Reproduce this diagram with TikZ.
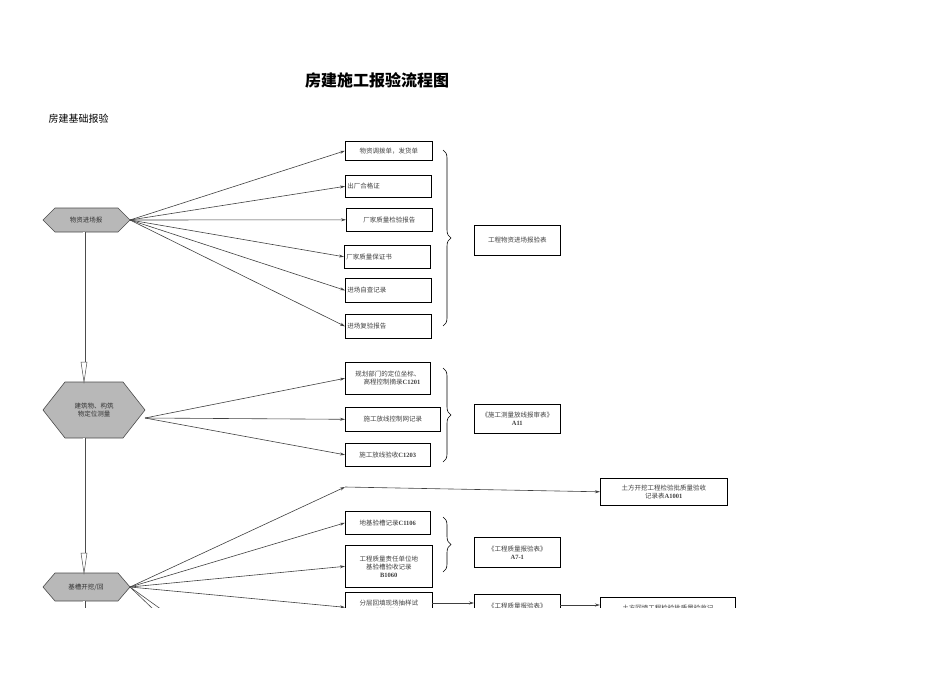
\documentclass[tikz,border=0pt]{standalone}
\usepackage{fontspec}
\setmainfont{Liberation Serif}
\newfontfamily\cjk{Noto Sans CJK SC}
\usetikzlibrary{arrows.meta,decorations.pathreplacing}
\begin{document}
\begin{tikzpicture}[x=1pt,y=-1pt,
  box/.style={draw=black,line width=0.6pt,inner sep=1pt,font=\cjk\fontsize{6.5}{8}\selectfont,text=black!75,align=center},
  hex/.style={draw=black!70,fill=black!28,line width=0.6pt},
  ar/.style={draw=black!75,line width=0.6pt,-{Stealth[length=5pt,width=3pt]}},
  dbl/.style={draw=black!70,double=white,double distance=2pt,line width=0.5pt},
  br/.style={draw=black,line width=0.6pt,decoration={brace,amplitude=8pt},decorate}]
\useasboundingbox (0,0) rectangle (950,672);
\node[font=\cjk\bfseries\fontsize{16}{18}\selectfont] (title) at (377,80) {房建施工报验流程图};
\node[font=\cjk\fontsize{10}{12}\selectfont,anchor=west] (sub) at (45,119) {房建基础报验};
\begin{scope}
\clip (0,0) rectangle (950,607);
% hexagons
\draw[hex] (43,220)--(55,208)--(118,208)--(130,220)--(118,232)--(55,232)--cycle;
\node[font=\cjk\fontsize{6.5}{8}\selectfont,text=black!80] (h1) at (86,220) {物资进场报};
\draw[hex] (43,410)--(65,382)--(123,382)--(145,410)--(123,438)--(65,438)--cycle;
\node[font=\cjk\fontsize{6.5}{8}\selectfont,text=black!80,align=center] (h2) at (94,410) {建筑物、构筑\\物定位测量};
\draw[hex] (43,587)--(55,573)--(118,573)--(130,587)--(118,601)--(55,601)--cycle;
\node[font=\cjk\fontsize{6.5}{8}\selectfont,text=black!80] (h3) at (86,587) {基槽开挖/回};
\coordinate (o1) at (130,220);
\coordinate (o2) at (145,418);
\coordinate (o3) at (130,587);
% double connectors
\draw[dbl] (84,232)--(84,362);
\draw[draw=black!70,line width=0.5pt] (81,362)--(84,382)--(87,362)--cycle;
\draw[dbl] (84,438)--(84,553);
\draw[draw=black!70,line width=0.5pt] (81,553)--(84,573)--(87,553)--cycle;
\draw[dbl] (84,601)--(84,620);
% group 1
\node[box,minimum width=87pt,minimum height=19pt,anchor=north west] (a1) at (345,141) {物资调拨单，发货单};
\node[box,minimum width=86pt,minimum height=22pt,anchor=north west,align=left,text width=82pt] (a2) at (345,175) {出厂合格证};
\node[box,minimum width=86pt,minimum height=23pt,anchor=north west] (a3) at (346,208) {厂家质量检验报告};
\node[box,minimum width=86pt,minimum height=23pt,anchor=north west,align=left,text width=82pt] (a4) at (344,245) {厂家质量保证书};
\node[box,minimum width=86pt,minimum height=24pt,anchor=north west,align=left,text width=82pt] (a5) at (345,278) {进场自查记录};
\node[box,minimum width=86pt,minimum height=24pt,anchor=north west,align=left,text width=82pt] (a6) at (345,314) {进场复验报告};
\foreach \n in {a1,a2,a3,a4,a5,a6} \draw[ar] (o1)--(\n.west);
\draw[br] (443,150)--(443,326);
\node[box,minimum width=86pt,minimum height=30pt,anchor=north west] (A) at (474,225) {工程物资进场报验表};
% group 2
\node[box,minimum width=85pt,minimum height=32pt,anchor=north west,align=right] (b1) at (345,362) {规划部门的定位坐标、\\高程控制摘录{\rmfamily\bfseries C1201}};
\node[box,minimum width=95pt,minimum height=24pt,anchor=north west] (b2) at (345,407) {施工放线控制网记录};
\node[box,minimum width=85pt,minimum height=23pt,anchor=north west] (b3) at (345,443) {施工放线验收{\rmfamily\bfseries C1203}};
\foreach \n in {b1,b2,b3} \draw[ar] (o2)--(\n.west);
\draw[br] (443,368)--(443,462);
\node[box,minimum width=86pt,minimum height=29pt,anchor=north west] (B) at (474,404) {《施工测量放线报审表》\\{\rmfamily\bfseries A11}};
% group 3
\coordinate (k) at (345,487);
\draw[ar] (o3)--(k);
\node[box,minimum width=127pt,minimum height=27pt,anchor=north west] (c0) at (600,478) {土方开挖工程检验批质量验收\\记录表{\rmfamily\bfseries A1001}};
\draw[ar] (k)--(c0.west);
\node[box,minimum width=85pt,minimum height=23pt,anchor=north west] (c1) at (345,511) {地基验槽记录{\rmfamily\bfseries C1106}};
\node[box,minimum width=87pt,minimum height=42pt,anchor=north west] (c2) at (345,545) {工程质量责任单位地\\基验槽验收记录\\{\rmfamily\bfseries B1060}};
\draw[ar] (o3)--(c1.west);
\draw[ar] (o3)--(c2.west);
\draw[br] (443,517)--(443,572);
\node[box,minimum width=86pt,minimum height=30pt,anchor=north west] (C) at (474,537) {《工程质量报验表》\\{\rmfamily\bfseries A7-1}};
\node[box,minimum width=87pt,minimum height=30pt,anchor=north west] (c3) at (345,592) {分层回填现场抽样试\\验记录表};
\draw[ar] (o3)--(c3.west);
\node[box,minimum width=86pt,minimum height=30pt,anchor=north west] (D) at (474,594) {《工程质量报验表》\\A7-1};
\node[box,minimum width=135pt,minimum height=30pt,anchor=north west] (E) at (600,597) {土方回填工程检验批质量验收记\\录表};
\draw[ar] (432,603)--(474,603);
\draw[ar,line width=1pt] (560,605)--(600,605);
\coordinate (x1) at (190,630);
\coordinate (x2) at (175,630);
\draw[draw=black!70,line width=0.6pt] (o3)--(x1);
\draw[draw=black!70,line width=0.6pt] (o3)--(x2);
\end{scope}
\end{tikzpicture}
\end{document}
